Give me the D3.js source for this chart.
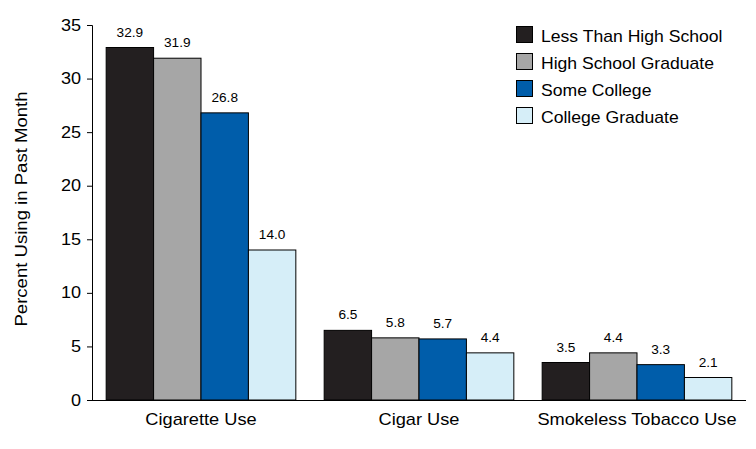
<!DOCTYPE html>
<html><head><meta charset="utf-8">
<script src="https://cdn.jsdelivr.net/npm/d3@7"></script>
<style>body{margin:0;background:#fff}svg{display:block;font-family:"Liberation Sans",Arial,sans-serif}</style>
</head><body><svg id="c" width="756" height="449"></svg>
<script>
const categories = ["Cigarette Use", "Cigar Use", "Smokeless Tobacco Use"];
const seriesNames = ["Less Than High School", "High School Graduate", "Some College", "College Graduate"];
const lessThanHS = [32.9, 6.5, 3.5];
const hsGrad = [31.9, 5.8, 4.4];
const someCollege = [26.8, 5.7, 3.3];
const collegeGrad = [14.0, 4.4, 2.1];
const yTicks = [0, 5, 10, 15, 20, 25, 30, 35];
const colors = ["#231F20", "#A6A6A6", "#005DAA", "#D6EEF8"];

const SX = 1.13; // horizontal stretch of text in the reference
const seriesValues = [lessThanHS, hsGrad, someCollege, collegeGrad];
const svg = d3.select("#c");
const x0 = d3.scaleBand().domain(categories).range([92, 746]).paddingInner(0.13).paddingOuter(0.065);
const x1 = d3.scaleBand().domain(seriesNames).range([0, x0.bandwidth()]);
const y = d3.scaleLinear().domain([0, 35]).range([400, 25]);

function label(g, x, yy, txt, size, anchor, sx) {
  return g.append("text")
    .attr("transform", `translate(${x},${yy}) scale(${sx},1)`)
    .attr("text-anchor", anchor).attr("font-size", size).attr("fill", "#000").text(txt);
}

// bars
categories.forEach((c, ci) => {
  seriesNames.forEach((s, si) => {
    const v = seriesValues[si][ci];
    svg.append("rect")
      .attr("x", x0(c) + x1(s)).attr("y", y(v))
      .attr("width", x1.bandwidth()).attr("height", y(0) - y(v))
      .attr("fill", colors[si]).attr("stroke", "#000").attr("stroke-width", 1);
    label(svg, x0(c) + x1(s) + x1.bandwidth() / 2, y(v) - 11, v.toFixed(1), 13, "middle", 1.05);
  });
});

// y axis
const yAxis = d3.axisLeft(y).tickValues(yTicks).tickSize(5).tickPadding(4).tickFormat(d3.format("d"));
const gy = svg.append("g").attr("transform", "translate(92,0)").call(yAxis);
gy.selectAll("line,path").attr("stroke", "#000");
gy.selectAll(".tick text")
  .attr("font-size", 16).attr("font-family", "Liberation Sans, Arial, sans-serif").attr("fill", "#000")
  .attr("x", -11 / SX).attr("transform", `scale(${SX},1)`);

// x axis
const xAxis = d3.axisBottom(x0).tickSize(0).tickPadding(14);
const gx = svg.append("g").attr("transform", "translate(0,400)").call(xAxis);
gx.select("path").attr("d", "M92,0.5H746").attr("stroke", "#000");
gx.selectAll(".tick text")
  .attr("font-size", 16).attr("font-family", "Liberation Sans, Arial, sans-serif").attr("fill", "#000")
  .attr("transform", `scale(${SX + 0.01},1)`);

// y title
svg.append("text").attr("transform", `translate(27,209) rotate(-90) scale(${SX + 0.03},1)`)
  .attr("text-anchor", "middle").attr("font-size", 16).text("Percent Using in Past Month");

// legend
const lg = svg.append("g");
seriesNames.forEach((s, i) => {
  const yy = 26 + i * 27;
  lg.append("rect").attr("x", 516.5).attr("y", yy + 0.5).attr("width", 16).attr("height", 16)
    .attr("fill", colors[i]).attr("stroke", "#000");
  label(lg, 541, yy + 15.5, s, 16, "start", 1.1);
});
</script></body></html>
